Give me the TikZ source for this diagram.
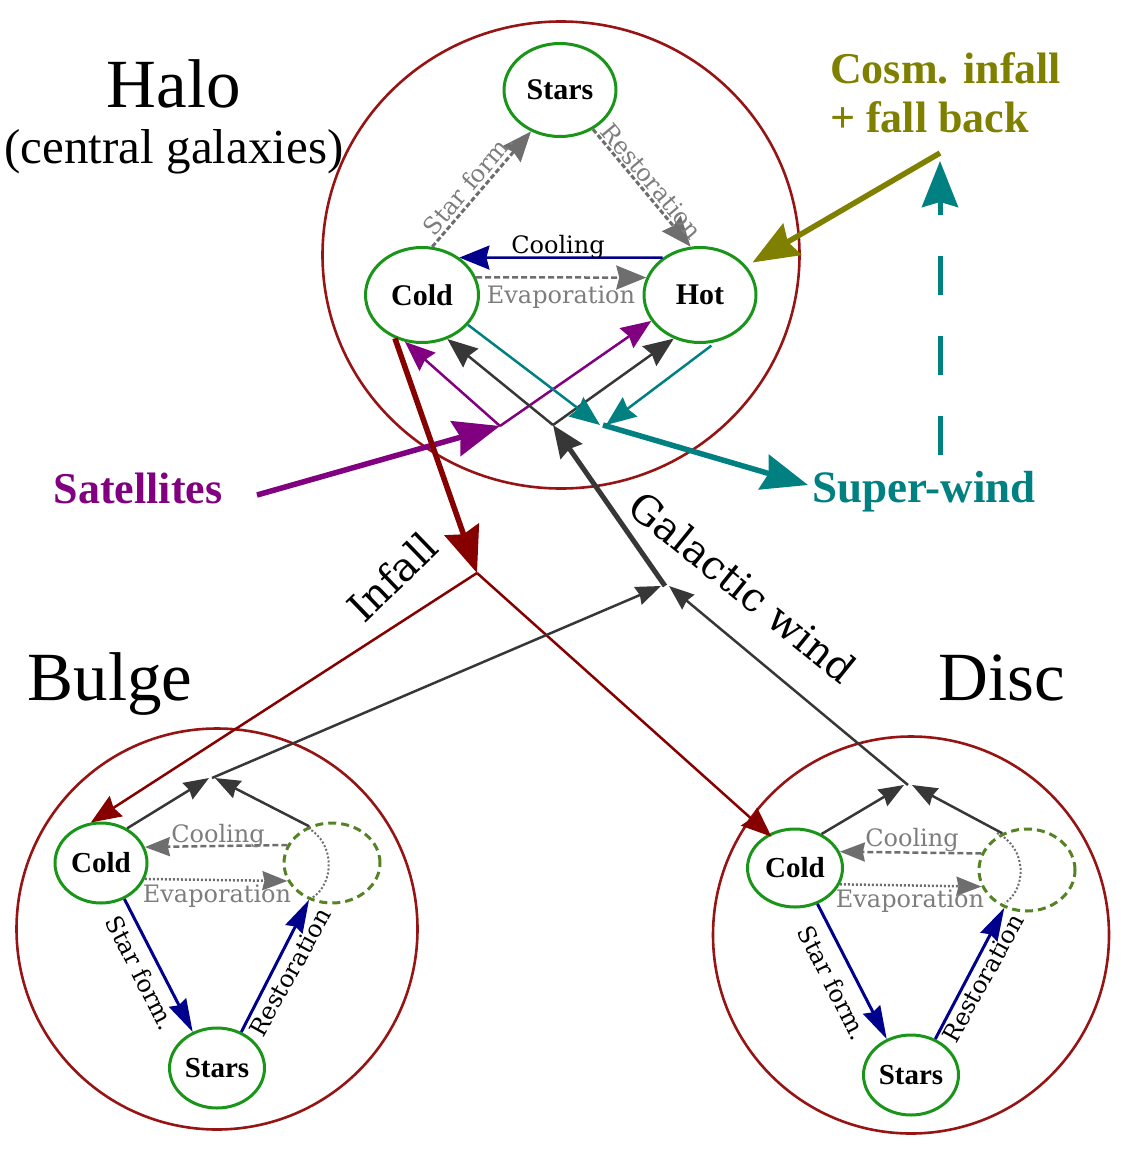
\documentclass[tikz,border=0pt]{standalone}
\usepackage{fontspec}
\setmainfont{Liberation Serif}
\newfontfamily\dvs{DejaVu Serif}
\usetikzlibrary{arrows.meta,shapes.geometric,calc}
\definecolor{cred}{RGB}{150,20,20}
\definecolor{dred}{RGB}{135,0,0}
\definecolor{ngreen}{RGB}{25,150,25}
\definecolor{dgreen}{RGB}{85,130,35}
\definecolor{navy}{RGB}{0,0,140}
\definecolor{purp}{RGB}{128,0,128}
\definecolor{tealc}{RGB}{0,128,128}
\definecolor{olivec}{RGB}{128,128,0}
\definecolor{dgray}{RGB}{55,55,55}
\definecolor{mgray}{RGB}{110,110,110}
\definecolor{lgray}{RGB}{125,125,125}
\tikzset{
 regionc/.style={ellipse, draw=cred, line width=2.6pt, inner sep=0pt},
 compn/.style={ellipse, draw=ngreen, line width=3pt, inner sep=0pt, font=\bfseries\fontsize{30}{30}\selectfont},
 compb/.style={compn, font=\bfseries\fontsize{29}{29}\selectfont},
 ghostn/.style={ellipse, draw=dgreen, line width=3pt, dash pattern=on 8pt off 5pt, inner sep=0pt},
 plab/.style={font=\dvs\fontsize{24}{24}\selectfont, inner sep=0pt},
 biglab/.style={font=\fontsize{69}{69}\selectfont, inner sep=0pt},
 sublab/.style={font=\fontsize{49}{49}\selectfont, inner sep=0pt},
 collab/.style={font=\bfseries\fontsize{44}{44}\selectfont, inner sep=0pt},
 wlab/.style={font=\dvs\fontsize{40}{40}\selectfont, inner sep=0pt},
 thinln/.style={line width=2.5pt},
 thickln/.style={line width=5.5pt},
 tipS/.style={-{Stealth[length=30pt,width=24pt,inset=3pt]}},
 tipM/.style={-{Stealth[length=25pt,width=19pt,inset=2pt]}},
 tipN/.style={-{Stealth[length=33pt,width=19pt,inset=3pt]}},
 tipW/.style={-{Stealth[length=32pt,width=26pt,inset=3pt]}},
 tipL/.style={-{Stealth[length=46pt,width=36pt,inset=5pt]}},
 gdash/.style={dash pattern=on 6pt off 3pt},
 hdash/.style={dash pattern=on 5pt off 2.5pt},
 gdot/.style={dash pattern=on 2pt off 2pt},
}
\begin{document}
\begin{tikzpicture}[x=1pt,y=-1pt]
\useasboundingbox (0,0) rectangle (1123,1156);

% regions
\node[regionc, minimum width=477pt, minimum height=467pt] (halo) at (561,255) {};
\node[regionc, minimum size=401pt] (bulge) at (217,929) {};
\node[regionc, minimum width=396pt, minimum height=397pt] (disc) at (911,935) {};

% region titles
\node[biglab, anchor=base] (haloT) at (174,107) {Halo};
\node[sublab, anchor=base] (haloS) at (174,163) {(central galaxies)};
\node[biglab, anchor=base] (bulgeT) at (110,700) {Bulge};
\node[biglab, anchor=base] (discT) at (1002,700) {Disc};

% halo components
\node[compn, minimum width=112pt, minimum height=93pt] (hS) at (560,90) {Stars};
\node[compn, minimum width=113pt, minimum height=95pt] (hC) at (422,295) {Cold};
\node[compn, minimum width=112pt, minimum height=95pt] (hH) at (700,295) {Hot};

% bulge components
\node[compb, minimum width=92pt, minimum height=80pt] (bC) at (101,863) {Cold};
\node[ghostn, minimum width=96pt, minimum height=80pt] (bH) at (332,863) {};
\node[compb, minimum width=95pt, minimum height=80pt] (bS) at (217,1068) {Stars};

% disc components
\node[compb, minimum width=95pt, minimum height=78pt] (dC) at (795,868) {Cold};
\node[ghostn, minimum width=96pt, minimum height=82pt] (dH) at (1027,870) {};
\node[compb, minimum width=95pt, minimum height=80pt] (dS) at (911,1075) {Stars};

% coloured labels
\node[collab, text=purp, anchor=base] (sat) at (138,503) {Satellites};
\node[collab, text=tealc, anchor=base west] (sw) at (812,502) {\fontsize{45}{45}\selectfont Super-wind};
\node[collab, text=olivec, anchor=base west] (cos1) at (830,83) {Cosm. infall};
\node[collab, text=olivec, anchor=base west] (cos2) at (830,132) {+ fall back};

% junctions and free ends
\coordinate (jP) at (500,426);
\coordinate (jK) at (553,425);
\coordinate (jT) at (603,425);
\coordinate (jI) at (477,573);
\coordinate (jG) at (665,586);
\coordinate (jB) at (212,778);
\coordinate (jD) at (908,785);
\coordinate (satS) at (257,495);
\coordinate (swE) at (808,485);
\coordinate (cosS) at (940,153);
\coordinate (vB) at (940,455);
\coordinate (vT) at (940,161);

% halo internal processes
\draw[navy, thinln, tipS] (hH.135) -- (hC.45);
\draw[mgray, thinln, gdash, tipS] (hC.18) -- (hH.162);
\draw[mgray, line width=3pt, hdash, tipS] (hC.78) -- (hS.235);
\draw[mgray, line width=3pt, hdash, tipS] (hS.-50) -- (hH.101);
\node[plab, anchor=base] (hCoolL) at (558,253) {Cooling};
\node[plab, text=lgray, anchor=base] (hEvapL) at (561,303) {Evaporation};
\node[plab, text=lgray, rotate=50] (hSfL) at (468,184) {Star form.};
\node[plab, text=lgray, rotate=-50] (hResL) at (652,181) {Restoration};

% halo exchange arrows
\draw[purp, thinln, tipS] (jP) -- (hC.250);
\draw[purp, thinln, tipS] (jP) -- (hH.208);
\draw[dgray, thinln, tipS] (jK) -- (hC.-60);
\draw[dgray, thinln, tipS] (jK) -- (hH.239);
\draw[tealc, thinln, tipS] (hC.-33) -- ([xshift=-3pt]jT);
\draw[tealc, thinln, tipS, shorten <=6pt] (hH.-71) -- ([xshift=3pt]jT);

% thick flows
\draw[purp, thickln, tipL] (satS) -- (jP);
\draw[tealc, thickln, tipL] (jT) -- (swE);
\draw[olivec, thickln, tipL, shorten >=7pt] (cosS) -- (hH.32);
\draw[tealc, line width=5pt, dash pattern=on 39pt off 41pt, tipL] (vB) -- (vT);
\draw[dred, thickln, tipL] (hC.-122) -- (jI);
\draw[dgray, line width=5pt, tipW] (jG) -- (jK);
\node[wlab, rotate=44] (infL) at (392,577) {Infall};
\node[wlab, rotate=-39] (gwL) at (743,587) {Galactic wind};

% infall to bulge and disc
\draw[dred, thinln, tipS] (jI) -- (bC.104);
\draw[dred, thinln, tipS, shorten >=-4pt] (jI) -- (dC.128);

% winds from bulge and disc
\draw[dgray, thinln, tipM] (bC.53) -- ([xshift=-3pt]jB);
\draw[dgray, thinln, tipM] (bH.122) -- ([xshift=3pt]jB);
\draw[dgray, thinln, tipM] (jB) -- ([xshift=-4pt]jG);
\draw[dgray, thinln, tipM] (dC.52) -- ([xshift=-4pt]jD);
\draw[dgray, thinln, tipM] (dH.124) -- ([xshift=4pt]jD);
\draw[dgray, thinln, tipM] (jD) -- ([xshift=4pt]jG);

% bulge internal processes
\draw[mgray, thinln, gdash, tipM] (bH.158) -- (bC.20);
\draw[mgray, thinln, gdot, tipM] (bC.-20) -- (bH.202);
\draw[mgray, line width=2pt, gdot] ($(bH)+(-24,-35)$) .. controls ($(bH)+(3,-20)$) and ($(bH)+(3,20)$) .. ($(bH)+(-20,35)$);
\draw[navy, line width=3pt, tipN] (bC.-57) -- (bS.124);
\draw[navy, line width=3pt, tipN] (bS.56) -- (bH.238);
\node[plab, text=lgray, anchor=base] (bCoolL) at (218,842) {Cooling};
\node[plab, text=lgray, anchor=base] (bEvapL) at (217,902) {Evaporation};
\node[plab, rotate=-63] (bSfL) at (141,973) {Star form.};
\node[plab, rotate=61] (bResL) at (290,972) {Restoration};

% disc internal processes
\draw[mgray, thinln, gdash, tipM] (dH.160) -- (dC.20);
\draw[mgray, thinln, gdot, tipM] (dC.-20) -- (dH.200);
\draw[mgray, line width=2pt, gdot] ($(dH)+(-30,-37)$) .. controls ($(dH)+(0,-22)$) and ($(dH)+(0,18)$) .. ($(dH)+(-22,33)$);
\draw[navy, line width=3pt, tipN] (dC.-58) -- (dS.124);
\draw[navy, line width=3pt, tipN] (dS.56) -- (dH.239);
\node[plab, text=lgray, anchor=base] (dCoolL) at (912,846) {Cooling};
\node[plab, text=lgray, anchor=base] (dEvapL) at (910,907) {Evaporation};
\node[plab, rotate=-63] (dSfL) at (833,983) {Star form.};
\node[plab, rotate=61] (dResL) at (983,978) {Restoration};
\end{tikzpicture}
\end{document}
